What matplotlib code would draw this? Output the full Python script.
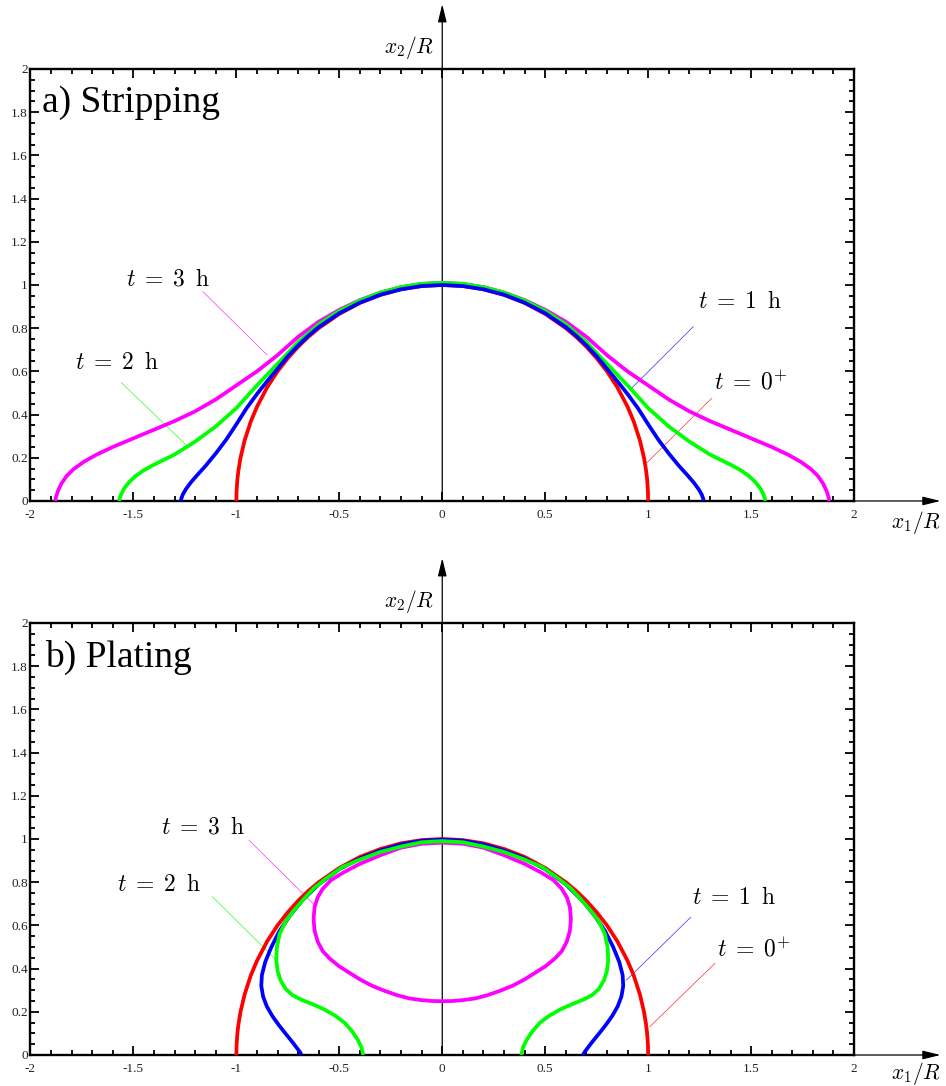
import matplotlib
matplotlib.use("Agg")
import matplotlib.pyplot as plt
import numpy as np
from matplotlib.ticker import MultipleLocator, FixedLocator, FixedFormatter

# ---------------- data (right halves; curves are symmetric about x1 = 0) ----------------
x_ticks = [-2, -1.5, -1, -0.5, 0, 0.5, 1, 1.5, 2]
x_tick_labels = ["-2", "-1.5", "-1", "-0.5", "0", "0.5", "1", "1.5", "2"]
y_ticks = [0, 0.2, 0.4, 0.6, 0.8, 1.0, 1.2, 1.4, 1.6, 1.8, 2.0]
y_tick_labels = ["0", "0.2", "0.4", "0.6", "0.8", "1", "1.2", "1.4", "1.6", "1.8", "2"]

# t = 0+ (initial hemisphere), same in both panels
t0_x = [0, 0.1, 0.2, 0.3, 0.4, 0.5, 0.6, 0.65, 0.7, 0.75, 0.8, 0.85, 0.9, 0.93, 0.96,
        0.98, 0.99, 0.995, 0.999, 1.0]
t0_y = [1.0, 0.995, 0.98, 0.954, 0.917, 0.866, 0.8, 0.76, 0.714, 0.661, 0.6, 0.527, 0.436,
        0.368, 0.28, 0.199, 0.141, 0.1, 0.045, 0.0]

# a) Stripping
strip_t1_x = [0, 0.1, 0.2, 0.3, 0.4, 0.5, 0.6, 0.65, 0.7, 0.75, 0.8, 0.85, 0.9, 0.95, 1.0,
              1.05, 1.1, 1.15, 1.19, 1.22, 1.245, 1.26, 1.267, 1.27]
strip_t1_y = [1.0, 0.995, 0.98, 0.955, 0.918, 0.869, 0.805, 0.765, 0.72, 0.67, 0.612, 0.555,
              0.495, 0.43, 0.355, 0.283, 0.22, 0.162, 0.12, 0.087, 0.055, 0.03, 0.012, 0.0]
strip_t2_x = [0, 0.1, 0.2, 0.3, 0.4, 0.5, 0.6, 0.7, 0.8, 0.9, 1.0, 1.1, 1.2, 1.3, 1.4, 1.45,
              1.49, 1.52, 1.545, 1.56, 1.567, 1.57]
strip_t2_y = [1.01, 1.005, 0.99, 0.965, 0.928, 0.88, 0.818, 0.735, 0.635, 0.535, 0.43, 0.345,
              0.275, 0.215, 0.168, 0.142, 0.115, 0.088, 0.058, 0.03, 0.012, 0.0]
strip_t3_x = [0, 0.1, 0.2, 0.3, 0.4, 0.5, 0.6, 0.7, 0.8, 0.9, 1.0, 1.1, 1.2, 1.3, 1.4, 1.5,
              1.6, 1.68, 1.74, 1.79, 1.825, 1.85, 1.867, 1.876, 1.88]
strip_t3_y = [1.01, 1.005, 0.99, 0.965, 0.93, 0.885, 0.83, 0.76, 0.675, 0.6, 0.535, 0.47,
              0.415, 0.37, 0.33, 0.29, 0.25, 0.214, 0.182, 0.148, 0.115, 0.08, 0.045, 0.018, 0.0]

# b) Plating
plate_t1_x = [0, 0.1, 0.2, 0.3, 0.4, 0.5, 0.6, 0.68, 0.74, 0.79, 0.83, 0.86, 0.876, 0.879,
              0.87, 0.852, 0.825, 0.795, 0.762, 0.728, 0.704, 0.69, 0.684]
plate_t1_y = [0.997, 0.992, 0.975, 0.947, 0.91, 0.86, 0.79, 0.715, 0.645, 0.575, 0.5, 0.43,
              0.37, 0.32, 0.27, 0.225, 0.18, 0.14, 0.1, 0.06, 0.03, 0.012, 0.0]
plate_t2_x = [0, 0.1, 0.2, 0.3, 0.4, 0.485, 0.56, 0.62, 0.67, 0.72, 0.76, 0.79, 0.803, 0.806,
              0.8, 0.785, 0.76, 0.727, 0.685, 0.632, 0.575, 0.52, 0.475, 0.438, 0.41, 0.392, 0.384]
plate_t2_y = [0.99, 0.985, 0.965, 0.94, 0.905, 0.87, 0.82, 0.775, 0.725, 0.67, 0.62, 0.56, 0.5,
              0.44, 0.39, 0.345, 0.305, 0.277, 0.256, 0.236, 0.212, 0.182, 0.15, 0.11, 0.07, 0.035, 0.0]
plate_t3_x = [0, 0.1, 0.2, 0.3, 0.4, 0.48, 0.54, 0.58, 0.605, 0.62, 0.625, 0.62, 0.605, 0.58,
              0.545, 0.5, 0.45, 0.4, 0.34, 0.28, 0.22, 0.16, 0.1, 0.05, 0]
plate_t3_y = [0.983, 0.978, 0.96, 0.925, 0.885, 0.845, 0.81, 0.77, 0.73, 0.685, 0.63, 0.575,
              0.525, 0.48, 0.445, 0.41, 0.38, 0.35, 0.32, 0.297, 0.277, 0.262, 0.254, 0.25, 0.249]

labels = [r"$t\;=\;0^{+}$", r"$t\;=\;1\;\;\mathrm{h}$", r"$t\;=\;2\;\;\mathrm{h}$",
          r"$t\;=\;3\;\;\mathrm{h}$"]
colors = ["#ff0000", "#0000ff", "#00ff00", "#ff00ff"]

# ---------------- layout ----------------
plt.rcParams["mathtext.fontset"] = "cm"
serif = "Liberation Serif"

fig = plt.figure(figsize=(9.46, 10.86), dpi=100)
ax_a = fig.add_axes([0.0322, 0.5387, 0.8706, 0.3978])
ax_b = fig.add_axes([0.0322, 0.02855, 0.8706, 0.3978])


def full(xr, yr):
    xr = np.asarray(xr, float)
    yr = np.asarray(yr, float)
    return np.concatenate([-xr[::-1], xr[1:]]), np.concatenate([yr[::-1], yr[1:]])


def style(ax, title, title_pos, xlab_y):
    ax.set_xlim(-2, 2)
    ax.set_ylim(0, 2)
    ax.xaxis.set_major_locator(FixedLocator(x_ticks))
    ax.xaxis.set_major_formatter(FixedFormatter(x_tick_labels))
    ax.yaxis.set_major_locator(FixedLocator(y_ticks))
    ax.yaxis.set_major_formatter(FixedFormatter(y_tick_labels))
    ax.xaxis.set_minor_locator(MultipleLocator(0.1))
    ax.yaxis.set_minor_locator(MultipleLocator(0.05))
    ax.tick_params(which="both", direction="in", top=True, right=True, width=1.3,
                   color="black")
    ax.tick_params(which="major", length=6.5)
    ax.tick_params(which="minor", length=3.5)
    ax.tick_params(axis="x", which="major", pad=5.5)
    ax.tick_params(axis="y", which="major", pad=2)
    for lab in ax.get_xticklabels() + ax.get_yticklabels():
        lab.set_fontfamily(serif)
        lab.set_fontsize(9.5)
        lab.set_color("#222222")
    for sp in ax.spines.values():
        sp.set_linewidth(1.7)
    ax.text(title_pos[0], title_pos[1], title, fontfamily=serif, fontsize=27,
            ha="left", va="baseline")
    # coordinate axes with arrows
    ax.annotate("", xy=(0, 2.3), xytext=(0, 0), xycoords="data",
                arrowprops=dict(arrowstyle="-|>,head_length=0.9,head_width=0.22", lw=0.9,
                                color="black", shrinkA=0, shrinkB=0, mutation_scale=12),
                annotation_clip=False, zorder=1)
    ax.annotate("", xy=(2.42, 0), xytext=(2, 0), xycoords="data",
                arrowprops=dict(arrowstyle="-|>,head_length=0.9,head_width=0.22", lw=0.9,
                                color="black", shrinkA=0, shrinkB=0, mutation_scale=12),
                annotation_clip=False)
    ax.text(-0.163, 2.10, r"$x_2/R$", fontsize=15.5, ha="center", va="center")
    ax.text(2.30, xlab_y, r"$x_1/R$", fontsize=15.5, ha="center", va="center",
            clip_on=False)


def annotate(ax, lbl_pos, line_pts):
    for i in range(4):
        (tx, ty) = lbl_pos[i]
        (x0, y0), (x1, y1) = line_pts[i]
        ax.plot([x0, x1], [y0, y1], color=colors[i], lw=0.55, alpha=0.75, zorder=2)
        ax.text(tx, ty, labels[i], fontsize=17, ha="center", va="center")


LW = 2.7

# panel a
style(ax_a, "a) Stripping", (-1.946, 1.80), -0.10)
curves_a = [(t0_x, t0_y, 0), (strip_t3_x, strip_t3_y, 3),
            (strip_t2_x, strip_t2_y, 2), (strip_t1_x, strip_t1_y, 1)]
for xr, yr, ci in curves_a:
    X, Y = full(xr, yr)
    ax_a.plot(X, Y, color=colors[ci], lw=LW, solid_capstyle="butt",
              solid_joinstyle="round", zorder=3)
annotate(ax_a,
         [(1.50, 0.55), (1.446, 0.925), (-1.576, 0.645), (-1.333, 1.03)],
         [((1.308, 0.475), (0.992, 0.175)), ((1.219, 0.807), (0.911, 0.514)),
          ((-1.559, 0.548), (-1.243, 0.259)), ((-1.162, 0.969), (-0.852, 0.677))])

# panel b
style(ax_b, "b) Plating", (-1.93, 1.798), -0.085)
curves_b = [(t0_x, t0_y, 0), (plate_t1_x, plate_t1_y, 1),
            (plate_t3_x, plate_t3_y, 3), (plate_t2_x, plate_t2_y, 2)]
for xr, yr, ci in curves_b:
    X, Y = full(xr, yr)
    ax_b.plot(X, Y, color=colors[ci], lw=LW, solid_capstyle="butt",
              solid_joinstyle="round", zorder=3)
annotate(ax_b,
         [(1.514, 0.49), (1.416, 0.73), (-1.373, 0.79), (-1.159, 1.06)],
         [((1.324, 0.424), (1.008, 0.131)), ((1.206, 0.637), (0.895, 0.347)),
          ((-1.117, 0.733), (-0.806, 0.44)), ((-0.939, 0.995), (-0.62, 0.694))])

fig.savefig("out.png", dpi=100)
